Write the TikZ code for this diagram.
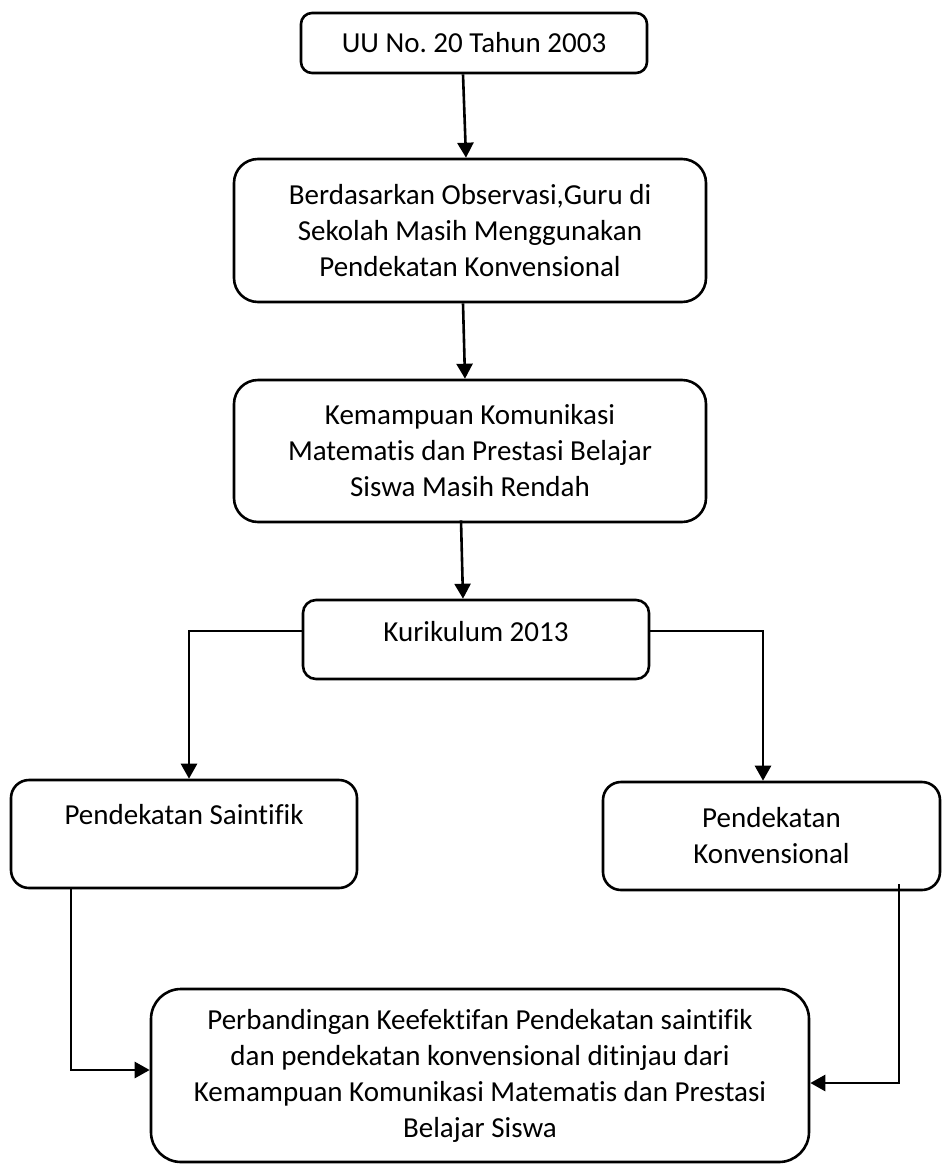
\documentclass[tikz,border=0pt]{standalone}
\usepackage{fontspec}
\setmainfont{Carlito}[Ligatures=NoCommon]
\usepackage{tikz}
\usetikzlibrary{arrows.meta, positioning}
\frenchspacing

\begin{document}
\begin{tikzpicture}[x=1pt, y=-1pt,
    box/.style={draw, line width=2.6pt, align=center, inner sep=0pt,
      font=\fontsize{29}{36}\selectfont},
    arr/.style={line width=2.6pt, -{Triangle[length=15pt,width=16pt]}}]
  \useasboundingbox (0,0) rectangle (942,1165);
  \node[box, rounded corners=11pt, minimum width=346pt, minimum height=60pt] (uu) at (474,43) {UU No.\ 20 Tahun 2003};
  \node[box, rounded corners=24pt, minimum width=472pt, minimum height=143pt] (obs) at (470,230.5)
    {Berdasarkan Observasi,Guru di\\ Sekolah Masih Menggunakan\\ Pendekatan Konvensional};
  \node[box, rounded corners=24pt, minimum width=472pt, minimum height=142pt] (km) at (470,451)
    {Kemampuan Komunikasi\\ Matematis dan Prestasi Belajar\\ Siswa Masih Rendah};
  \node[box, rounded corners=13pt, minimum width=346pt, minimum height=79pt,
    text height=20pt, text depth=16pt] (kur) at (476,639.5) {Kurikulum 2013};
  \node[box, rounded corners=18pt, minimum width=346pt, minimum height=108pt,
    text height=20pt, text depth=39pt] (saintifik) at (184,834) {Pendekatan Saintifik};
  \node[box, rounded corners=18pt, minimum width=337pt, minimum height=108pt] (konv) at (771.5,836)
    {Pendekatan\\ Konvensional};
  \node[box, rounded corners=30pt, minimum width=658pt, minimum height=173pt] (banding) at (480,1075.5)
    {Perbandingan Keefektifan Pendekatan saintifik\\ dan pendekatan konvensional ditinjau dari\\
     Kemampuan Komunikasi Matematis dan Prestasi\\ Belajar Siswa};

  \draw[arr] ([xshift=-11pt]uu.south) -- ([xshift=-4pt]obs.north);
  \draw[arr] ([xshift=-7pt]obs.south) -- ([xshift=-5pt]km.north);
  \draw[arr] ([xshift=-9pt,yshift=3pt]km.south) -- ([xshift=-13pt]kur.north);
  \draw[arr] ([yshift=8.5pt]kur.west) -| ([xshift=5pt]saintifik.north);
  \draw[arr] ([yshift=8.5pt]kur.east) -| ([xshift=-8.5pt]konv.north);
  \draw[arr] ([xshift=-113pt]saintifik.south) |- ([yshift=5.5pt]banding.west);
  \draw[arr] ([xshift=127.5pt,yshift=7pt]konv.south) |- ([yshift=-7.5pt]banding.east);
\end{tikzpicture}
\end{document}
